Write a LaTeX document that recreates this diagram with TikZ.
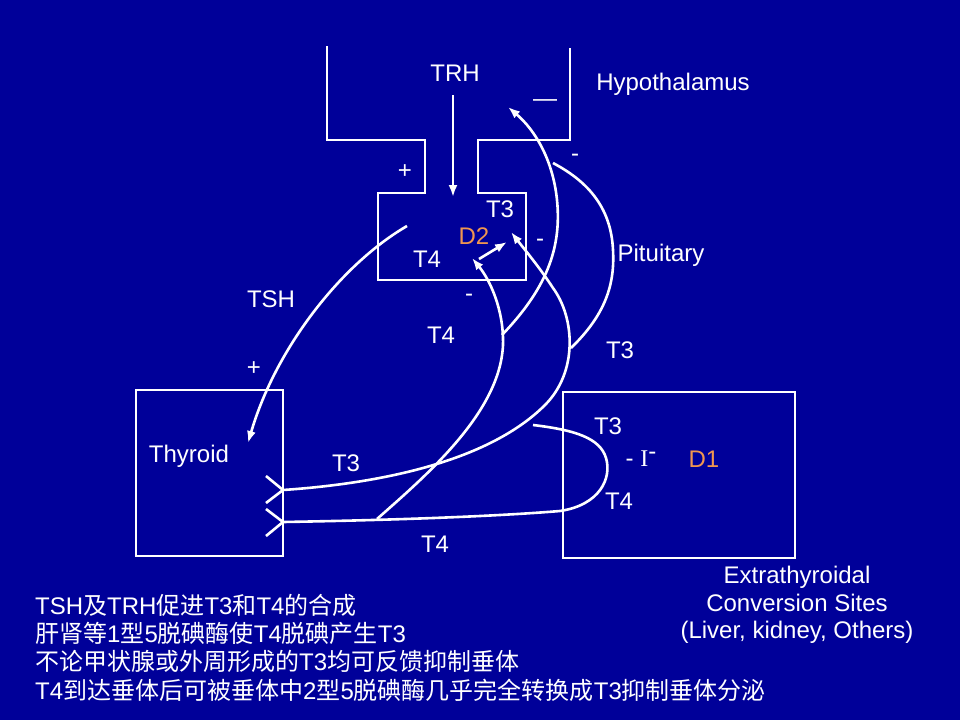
\documentclass[tikz,border=0pt]{standalone}
\usepackage{fontspec}
\setmainfont{Liberation Sans}
\newfontfamily\cjk{Noto Sans CJK SC}
\newfontfamily\timesf{Liberation Serif}
\usetikzlibrary{arrows.meta}
\definecolor{bgblue}{RGB}{0,0,153}
\definecolor{dorange}{RGB}{240,150,80}
\newcommand{\zh}[1]{{\cjk #1}}
\begin{document}
\begin{tikzpicture}[x=1pt,y=-1pt,
  font=\fontsize{24}{27.5}\selectfont,
  lbl/.style={text=white,inner sep=0pt},
  enz/.style={text=dorange,inner sep=0pt},
  note/.style={text=white,inner sep=0pt,anchor=west,font=\fontsize{24}{28}\selectfont},
  wline/.style={draw=white,line width=2.6pt},
  arr/.style={wline,-{Latex[length=12pt,width=9pt]}},
  organ/.style={wline,inner sep=0pt}]
\fill[bgblue] (0,0) rectangle (960,720);
\useasboundingbox (0,0) rectangle (960,720);

% hypothalamus / pituitary outline
\draw[wline,line join=miter] (327,46) -- (327,140) -- (425,140) -- (425,193) -- (378,193)
  -- (378,280) -- (526,280) -- (526,193) -- (478,193) -- (478,140) -- (570,140) -- (570,48);

% organ boxes
\node[organ,minimum width=147pt,minimum height=166pt] (thybox) at (209.5,473) {};
\node[organ,minimum width=232pt,minimum height=166pt] (extbox) at (679,475) {};

% labels
\node[lbl] (trh) at (455,73) {TRH};
\node[lbl] (hypo) at (673,84) {Hypothalamus};
\node[lbl] (bar) at (545,103) {—};
\node[lbl] (m1) at (575,158) {-};
\node[lbl] (p1) at (405,172) {+};
\node[lbl] (pT3) at (500,209) {T3};
\node[enz] (d2) at (474,236) {D2};
\node[lbl] (pT4) at (427,259) {T4};
\node[lbl] (m2) at (540,243) {-};
\node[lbl] (pit) at (661,255) {Pituitary};
\node[lbl] (tsh) at (271,299) {TSH};
\node[lbl] (m3) at (469,298) {-};
\node[lbl] (t4a) at (441,335) {T4};
\node[lbl] (t3a) at (620,350) {T3};
\node[lbl] (p2) at (254,369) {+};
\node[lbl] (thy) at (189,456) {Thyroid};
\node[lbl] (t3b) at (346,463) {T3};
\node[lbl] (t4b) at (435,544) {T4};
\node[lbl] (eT3) at (608,426) {T3};
\node[lbl] (iod) at (641,459) {- {\timesf I}\raisebox{7pt}{-}};
\node[enz] (d1) at (704,459) {D1};
\node[lbl] (eT4) at (619,501) {T4};
\node[lbl,align=center] (ext) at (797,605) {Extrathyroidal\\Conversion Sites\\(Liver, kidney, Others)};

% notes
\node[note] (n1) at (35,605) {TSH\zh{及}TRH\zh{促进}T3\zh{和}T4\zh{的合成}};
\node[note] (n2) at (35,633) {\zh{肝肾等}1\zh{型}5\zh{脱碘酶使}T4\zh{脱碘产生}T3};
\node[note] (n3) at (35,661) {\zh{不论甲状腺或外周形成的}T3\zh{均可反馈抑制垂体}};
\node[note] (n4) at (35,690) {T4\zh{到达垂体后可被垂体中}2\zh{型}5\zh{脱碘酶几乎完全转换成}T3\zh{抑制垂体分泌}};

% coordinates
\coordinate (trhS) at (453,95);
\coordinate (trhE) at (453,197);
\coordinate (tshS) at (407,226);
\coordinate (tshE) at (248,443);
\coordinate (d2S) at (479,259);
\coordinate (d2E) at (507,242);
\coordinate (thyU) at (283,490);
\coordinate (thyL) at (283,522);
\coordinate (bj) at (377,519);
\coordinate (cA) at (545,405);
\coordinate (cB) at (553,288);
\coordinate (pT3in) at (511,232);
\coordinate (pT4in) at (472,258);
\coordinate (bM) at (503,345);
\coordinate (aj) at (502,335);
\coordinate (aM) at (557,200);
\coordinate (hypIn) at (508,107);
\coordinate (dj) at (571,348);
\coordinate (dM) at (613,250);
\coordinate (dE) at (553,163);
\coordinate (lM) at (560,511);
\coordinate (lR) at (606,458);
\coordinate (lE) at (533,425);

% chevrons at thyroid outputs
\draw[wline,line join=miter] (266,476) -- (thyU) -- (266,503);
\draw[wline,line join=miter] (266,509) -- (thyL) -- (266,536);

% TRH and TSH
\draw[arr] (trhS) -- (trhE);
\draw[arr] (tshS) .. controls (340,265) and (275,350) .. (tshE);
\draw[arr] (d2S) -- (d2E);

% T3 from thyroid to pituitary
\draw[arr] (thyU) .. controls (400,482) and (495,455) .. (cA)
  .. controls (578,372) and (575,318) .. (cB)
  .. controls (540,268) and (525,250) .. (pT3in);
% T4 from thyroid loop to extrathyroidal
\draw[wline] (thyL) .. controls (400,520) and (500,516) .. (lM)
  .. controls (600,505) and (612,478) .. (lR)
  .. controls (600,438) and (575,430) .. (lE);
% T4 to pituitary
\draw[arr] (bj) .. controls (428,474) and (500,412) .. (bM)
  .. controls (504,310) and (490,280) .. (pT4in);
% feedback to hypothalamus
\draw[arr] (aj) .. controls (545,290) and (562,250) .. (aM)
  .. controls (553,160) and (535,130) .. (hypIn);
% pituitary arc
\draw[wline] (dj) .. controls (605,315) and (615,285) .. (dM)
  .. controls (611,205) and (585,180) .. (dE);
\end{tikzpicture}
\end{document}
